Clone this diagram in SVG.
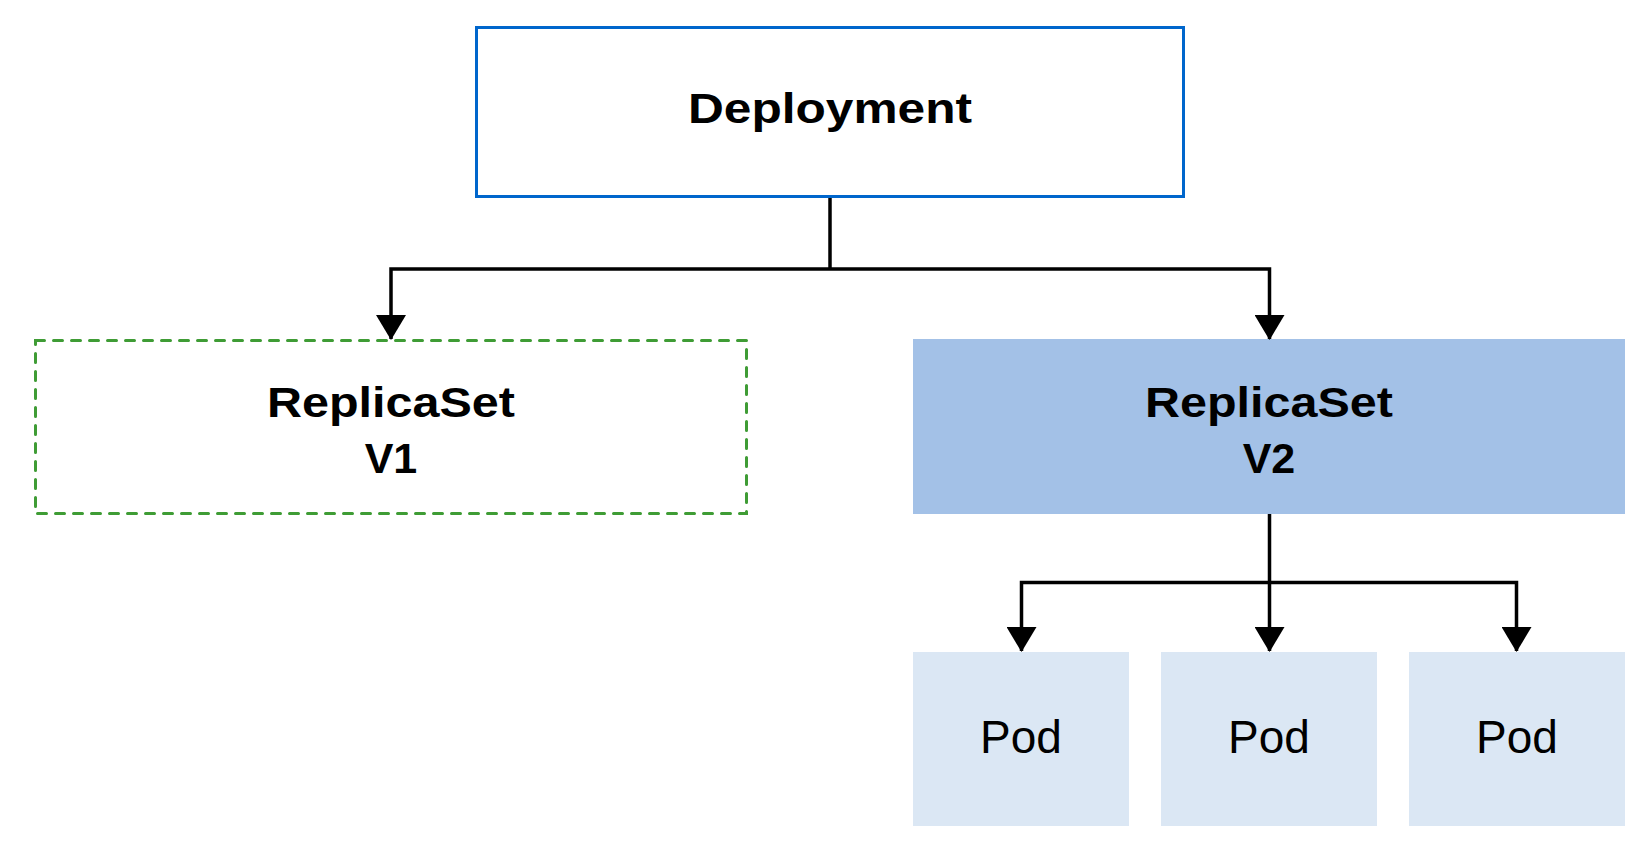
<svg xmlns="http://www.w3.org/2000/svg" width="1648" height="860" viewBox="0 0 1648 860">
<style>
.lbl{font-family:"Liberation Sans",Arial,sans-serif;font-weight:bold;font-size:43px;fill:#000;text-anchor:middle}
.pod{font-family:"Liberation Sans",Arial,sans-serif;font-size:46px;fill:#000;text-anchor:middle}
.conn{fill:none;stroke:#000;stroke-width:3.5}
.podbox{fill:#DBE7F4}
</style>
<defs>
<marker id="arr" markerUnits="userSpaceOnUse" markerWidth="26" markerHeight="30" refX="24" refY="15" orient="auto" viewBox="0 0 26 30">
<path d="M0,0 L25,15 L0,30 Z" fill="#000"/>
</marker>
</defs>
<rect width="1648" height="860" fill="#fff"/>
<g id="deployment">
<rect x="476.5" y="27.5" width="707" height="169" fill="#fff" stroke="#0066CC" stroke-width="3"/>
<text class="lbl" x="830" y="123" textLength="284" lengthAdjust="spacingAndGlyphs">Deployment</text>
</g>
<g id="replicaset-v1">
<rect x="35.5" y="340.5" width="711" height="173" fill="#fff" stroke="#3F9C35" stroke-width="3" stroke-dasharray="9 9" stroke-linecap="round"/>
<text class="lbl" x="391" y="417" textLength="248" lengthAdjust="spacingAndGlyphs">ReplicaSet</text>
<text class="lbl" x="391" y="473">V1</text>
</g>
<g id="replicaset-v2">
<rect x="913" y="339" width="712" height="175" fill="#A3C1E7"/>
<text class="lbl" x="1269" y="417" textLength="248" lengthAdjust="spacingAndGlyphs">ReplicaSet</text>
<text class="lbl" x="1269" y="473">V2</text>
</g>
<g id="pod-1">
<rect class="podbox" x="913" y="652" width="216" height="174"/>
<text class="pod" x="1021" y="753">Pod</text>
</g>
<g id="pod-2">
<rect class="podbox" x="1161" y="652" width="216" height="174"/>
<text class="pod" x="1269" y="753">Pod</text>
</g>
<g id="pod-3">
<rect class="podbox" x="1409" y="652" width="216" height="174"/>
<text class="pod" x="1517" y="753">Pod</text>
</g>
<g id="connectors">
<path class="conn" d="M830,198 V269"/>
<path class="conn" d="M830,269 H391 V339" marker-end="url(#arr)"/>
<path class="conn" d="M830,269 H1269.5 V339" marker-end="url(#arr)"/>
<path class="conn" d="M1269.5,514 V651" marker-end="url(#arr)"/>
<path class="conn" d="M1269.5,582.5 H1021.5 V651" marker-end="url(#arr)"/>
<path class="conn" d="M1269.5,582.5 H1516.5 V651" marker-end="url(#arr)"/>
</g>
</svg>
